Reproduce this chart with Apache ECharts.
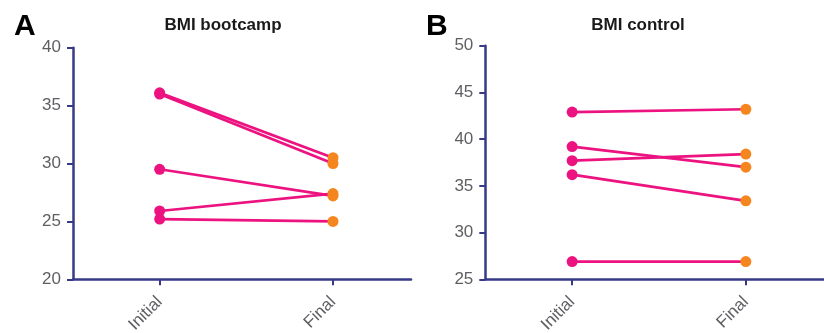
<!DOCTYPE html>
<html>
<head>
<meta charset="utf-8">
<script src="https://cdn.jsdelivr.net/npm/echarts@6/dist/echarts.min.js"></script>
<style>
  html, body { margin: 0; padding: 0; background: #fff; }
  #chart { width: 824px; height: 333px; }
</style>
</head>
<body>
<div id="chart"></div>
<script>
// 两个时间点
var timepoints = ["Initial", "Final"];
// BMI bootcamp 组
var bootInitial = [36.1, 36.0, 29.5, 25.9, 25.2];
var bootFinal = [30.5, 30.0, 27.2, 27.4, 25.0];
// BMI control 组
var ctrlInitial = [42.9, 39.2, 37.7, 36.2, 26.9];
var ctrlFinal = [43.2, 37.0, 38.4, 33.4, 26.9];

var pink = "#EC1380";
var orange = "#F5861F";
var axisColor = "#363A87";
var font = "Liberation Sans, Arial, sans-serif";

// x 轴位置: Initial = 1, Final = 3
var xPos = [1, 3];

function pairSeries(initial, final, idx) {
  return initial.map(function (v, i) {
    return {
      type: "line",
      xAxisIndex: idx,
      yAxisIndex: idx,
      data: [
        { value: [xPos[0], v], itemStyle: { color: pink } },
        { value: [xPos[1], final[i]], itemStyle: { color: orange } },
      ],
      symbol: "circle",
      symbolSize: 11,
      lineStyle: { color: pink, width: 2.7 },
      itemStyle: { color: pink },
      animation: false,
      z: 3,
    };
  });
}

function xAxis(idx) {
  return {
    type: "value",
    gridIndex: idx,
    min: 0,
    max: 3.9,
    splitLine: { show: false },
    axisLine: { show: true, lineStyle: { color: axisColor, width: 2.5 } },
    axisTick: {
      show: true,
      customValues: xPos,
      length: 6,
      lineStyle: { color: axisColor, width: 2 },
    },
    axisLabel: {
      customValues: xPos,
      rotate: 45,
      color: "#5E5F62",
      fontSize: 17,
      fontFamily: font,
      margin: 20,
      formatter: function (v) {
        return v === xPos[0] ? timepoints[0] : timepoints[1];
      },
    },
  };
}

function yAxis(idx, min, max) {
  return {
    type: "value",
    gridIndex: idx,
    min: min,
    max: max,
    interval: 5,
    splitLine: { show: false },
    axisLine: { show: true, lineStyle: { color: axisColor, width: 2.5 } },
    axisTick: { show: true, length: 6, lineStyle: { color: axisColor, width: 2 } },
    axisLabel: {
      color: "#5E5F62",
      fontSize: 17,
      fontFamily: font,
      margin: 12,
    },
  };
}

var chart = echarts.init(document.getElementById("chart"), null, { renderer: "canvas" });
chart.setOption({
  backgroundColor: "#fff",
  animation: false,
  title: [
    { text: "A", left: 9, top: 7, textStyle: { fontSize: 30, fontWeight: "bold", color: "#000", fontFamily: font } },
    { text: "B", left: 421, top: 7, textStyle: { fontSize: 30, fontWeight: "bold", color: "#000", fontFamily: font } },
    { text: "BMI bootcamp", left: 218, top: 12, textAlign: "center", textStyle: { fontSize: 17, fontWeight: "bold", color: "#1a1a1a", fontFamily: font } },
    { text: "BMI control", left: 633, top: 12, textAlign: "center", textStyle: { fontSize: 17, fontWeight: "bold", color: "#1a1a1a", fontFamily: font } },
  ],
  grid: [
    { left: 73, top: 47.7, width: 338, height: 231.6, outerBoundsMode: "none", containLabel: false },
    { left: 485.3, top: 45.7, width: 338.7, height: 233.6, outerBoundsMode: "none", containLabel: false },
  ],
  xAxis: [xAxis(0), xAxis(1)],
  yAxis: [yAxis(0, 20, 40), yAxis(1, 25, 50)],
  series: pairSeries(bootInitial, bootFinal, 0).concat(pairSeries(ctrlInitial, ctrlFinal, 1)),
});
</script>
</body>
</html>
